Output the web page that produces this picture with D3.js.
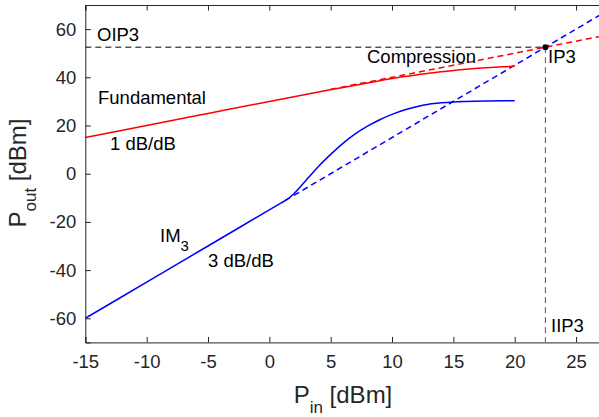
<!DOCTYPE html>
<html><head><meta charset="utf-8">
<script src="https://cdn.jsdelivr.net/npm/d3@7/dist/d3.min.js"></script>
<style>body{margin:0;background:#fff}svg{display:block}text{font-family:"Liberation Sans",Arial,sans-serif}</style>
</head><body><svg id="c" width="599" height="417"></svg>
<script>
// Data
const xTicks = [-15,-10,-5,0,5,10,15,20,25];
const yTicks = [-60,-40,-20,0,20,40,60];
const fundPin  = [-15,-10,-5,0,4,6,8,10,11,12,13,14,15,16,17,18,19,20];
const fundPout = [15,20,25,30,33.9,35.8,37.6,39.5,40.3,41.0,41.7,42.3,42.8,43.3,43.8,44.1,44.4,44.6];
const im3Pin  = [-15,-10,-5,0,1,1.5,2,2.5,3,3.5,4,5,6,7,8,9,10,11,12,13,14,15,16,18,20];
const im3Pout = [-60,-45,-30,-15,-12,-10.5,-8.3,-5.6,-2.7,0.2,3.0,8.0,12.6,16.5,19.7,22.4,24.6,26.4,27.8,28.8,29.4,29.8,30.0,30.2,30.3];
const fundExtPin = [5,27], fundExtPout = [35,57];
const im3ExtPin = [1.3,27], im3ExtPout = [-11.1,66];
const ip3 = {pin:22.5, pout:52.5};
const xDomain=[-15,27], yDomain=[-70,70];

const svg=d3.select("#c");
const L=85.3,R=600.6,T=5,B=342.4;
const x=d3.scaleLinear().domain(xDomain).range([L,R]);
const y=d3.scaleLinear().domain(yDomain).range([B,T]);
const axisCol="#262626";

svg.append("clipPath").attr("id","clip").append("rect").attr("x",L).attr("y",T).attr("width",R-L).attr("height",B-T);
const g=svg.append("g").attr("clip-path","url(#clip)");
const line=d3.line().x(d=>x(d[0])).y(d=>y(d[1]));
const zip=(a,b)=>a.map((v,i)=>[v,b[i]]);

// reference dashed lines
g.append("path").attr("d",line([[xDomain[0],ip3.pout],[ip3.pin,ip3.pout]])).attr("stroke","#000").attr("stroke-width",1).attr("stroke-dasharray","6,4").attr("fill","none");
g.append("path").attr("d",line([[ip3.pin,ip3.pout],[ip3.pin,yDomain[0]]])).attr("stroke","#555").attr("stroke-width",1).attr("stroke-dasharray","6,4").attr("fill","none");
g.append("path").attr("d",line(zip(fundExtPin,fundExtPout))).attr("stroke","#f00").attr("stroke-width",1.5).attr("stroke-dasharray","6,4").attr("fill","none");
g.append("path").attr("d",line(zip(im3ExtPin,im3ExtPout))).attr("stroke","#00f").attr("stroke-width",1.5).attr("stroke-dasharray","6,4").attr("fill","none");
const cl=d3.line().x(d=>x(d[0])).y(d=>y(d[1])).curve(d3.curveMonotoneX);
g.append("path").attr("d",cl(zip(fundPin,fundPout))).attr("stroke","#f00").attr("stroke-width",1.5).attr("fill","none");
g.append("path").attr("d",cl(zip(im3Pin,im3Pout))).attr("stroke","#00f").attr("stroke-width",1.5).attr("fill","none");
g.append("circle").attr("cx",x(ip3.pin)).attr("cy",y(ip3.pout)).attr("r",3).attr("fill","#000");

// axes
const fmt=d=>String(d);
const xa=svg.append("g").attr("transform",`translate(0,${B})`).call(d3.axisBottom(x).tickValues(xTicks).tickSize(-5.5).tickPadding(12).tickFormat(fmt));
const xt=svg.append("g").attr("transform",`translate(0,${T})`).call(d3.axisTop(x).tickValues(xTicks).tickSize(-5.5).tickFormat(""));
const ya=svg.append("g").attr("transform",`translate(${L},0)`).call(d3.axisLeft(y).tickValues(yTicks).tickSize(-5.5).tickPadding(9).tickFormat(fmt));
[xa,xt,ya].forEach(a=>{a.selectAll("path").attr("stroke",axisCol).attr("stroke-width",1);a.selectAll("line").attr("stroke",axisCol);a.selectAll("text").attr("fill",axisCol).style("font-size","18.5px");});

// labels
const xl=svg.append("text").attr("x",343).attr("y",403).attr("text-anchor","middle").attr("fill",axisCol).style("font-size","24px");
xl.append("tspan").text("P");
xl.append("tspan").attr("dy",10).style("font-size","17px").text("in");
xl.append("tspan").attr("dy",-10).text(" [dBm]");
const yl=svg.append("text").attr("transform","translate(26,173) rotate(-90)").attr("text-anchor","middle").attr("fill",axisCol).style("font-size","24px");
yl.append("tspan").text("P");
yl.append("tspan").attr("dy",10).style("font-size","17px").text("out");
yl.append("tspan").attr("dy",-10).text(" [dBm]");

const ann=(t,px,py)=>svg.append("text").attr("x",px).attr("y",py).attr("fill","#000").style("font-size","18.5px").text(t);
ann("OIP3",97,41);
ann("Fundamental",98,104);
ann("1 dB/dB",110,150);
const im=ann("IM",160,242);
im.append("tspan").attr("dy",9).style("font-size","15px").text("3");
ann("3 dB/dB",208,267);
ann("Compression",367,63);
ann("IP3",548,63);
ann("IIP3",551,332);
</script></body></html>
